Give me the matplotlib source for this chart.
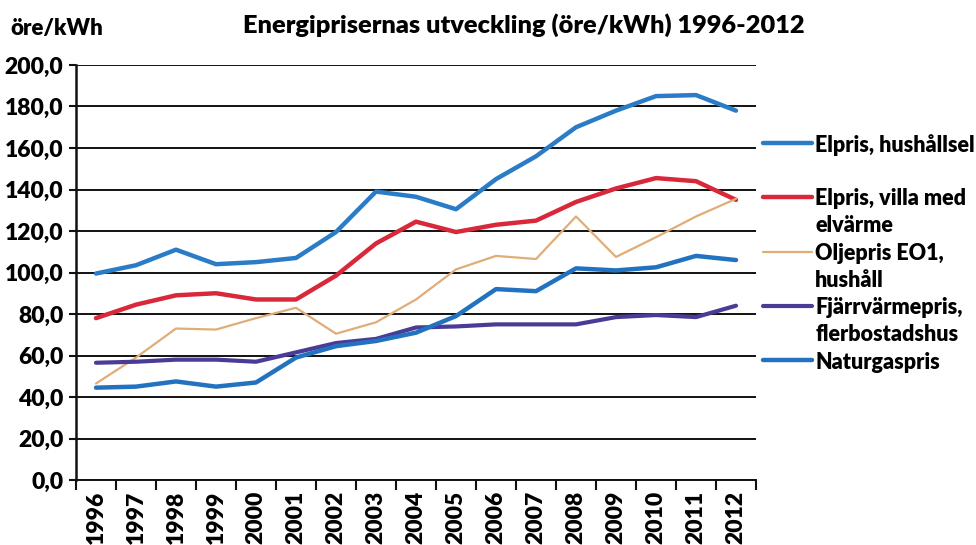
import numpy as np
import matplotlib
matplotlib.use('Agg')
import matplotlib.pyplot as plt
from matplotlib.ticker import FuncFormatter, FixedLocator

plt.rcParams['font.family'] = ['Lato', 'DejaVu Sans']
plt.rcParams['font.weight'] = 'heavy'

# Data (ore/kWh)
years = ['1996', '1997', '1998', '1999', '2000', '2001', '2002', '2003', '2004',
         '2005', '2006', '2007', '2008', '2009', '2010', '2011', '2012']
elpris_hushall = [99.5, 103.5, 111, 104, 105, 107, 119.5, 139, 136.5,
                  130.5, 145, 156, 170, 178, 185, 185.5, 178]
elpris_villa = [78, 84.5, 89, 90, 87, 87, 98.5, 114, 124.5,
                119.5, 123, 125, 134, 140.5, 145.5, 144, 135]
oljepris = [46.5, 59, 73, 72.5, 78, 83, 70.5, 76, 87,
            101.5, 108, 106.5, 127, 107.5, 117, 127, 135.5]
fjarrvarme = [56.5, 57, 58, 58, 57, 61.5, 66, 68, 73.5,
              74, 75, 75, 75, 78.5, 79.5, 78.5, 84]
naturgas = [44.5, 45, 47.5, 45, 47, 59, 64.5, 67, 71,
            79, 92, 91, 102, 101, 102.5, 108, 106]

labels = [['Elpris, hushållsel'], ['Elpris, villa med', 'elvärme'],
          ['Oljepris EO1,', 'hushåll'], ['Fjärrvärmepris,', 'flerbostadshus'],
          ['Naturgaspris']]
series = [elpris_hushall, elpris_villa, oljepris, fjarrvarme, naturgas]
colors = ['#2a7cc6', '#d8283a', '#e0ad78', '#4a3c96', '#2272c0']
widths = [3.2, 3.2, 1.6, 3.0, 3.2]
# legend row heights (in data units) for each entry, first text line
leg_y = [162.4, 136.4, 109.9, 83.9, 57.8]
line_step = 13.0

fig = plt.figure(figsize=(9.76, 5.45), dpi=100)
ax = fig.add_axes([76/976, 1-480/545, 680/976, 415/545])

x = np.arange(len(years))
for s, c, w in zip(series, colors, widths):
    ax.plot(x, s, color=c, lw=w, solid_capstyle='round', zorder=3)

ax.set_xlim(-0.5, len(years)-0.5)
ax.set_ylim(0, 200)
ax.set_yticks(np.arange(0, 201, 20))
ax.yaxis.set_major_formatter(FuncFormatter(lambda v, p: ('%.1f' % v).replace('.', ',')))
ax.grid(axis='y', color='#111111', lw=1.4, zorder=1)
ax.set_xticks(x)
ax.set_xticklabels(years, rotation=90)
ax.xaxis.set_minor_locator(FixedLocator(np.arange(-0.5, len(years), 1)))
ax.tick_params(axis='x', which='major', length=0, pad=8, labelsize=16.5)
ax.tick_params(axis='x', which='minor', length=7, width=1.5, color='#111111')
ax.tick_params(axis='y', length=5, width=1.5, color='#111111', labelsize=16.5, pad=4)
for sp in ['top', 'right']:
    ax.spines[sp].set_visible(False)
ax.spines['left'].set_linewidth(1.8)
ax.spines['left'].set_color('#111111')
ax.spines['bottom'].set_linewidth(1.4)
ax.spines['bottom'].set_color('#111111')

# legend drawn by hand so the handle sits on the first text line
tr = ax.get_yaxis_transform()
for lab, c, w, yy in zip(labels, colors, widths, leg_y):
    ax.plot([1.01, 1.082], [yy, yy], color=c, lw=w, transform=tr, clip_on=False,
            solid_capstyle='round')
    for k, line in enumerate(lab):
        ax.text(1.087, yy - k*line_step, line, transform=tr, va='center_baseline',
                ha='left', fontsize=15.5, clip_on=False)

fig.text(524/976, 1-25/545, 'Energiprisernas utveckling (öre/kWh) 1996-2012',
         ha='center', va='center', fontsize=18.3)
fig.text(10/976, 1-29/545, 'öre/kWh', ha='left', va='center', fontsize=16)

fig.savefig('out.png', dpi=100)
